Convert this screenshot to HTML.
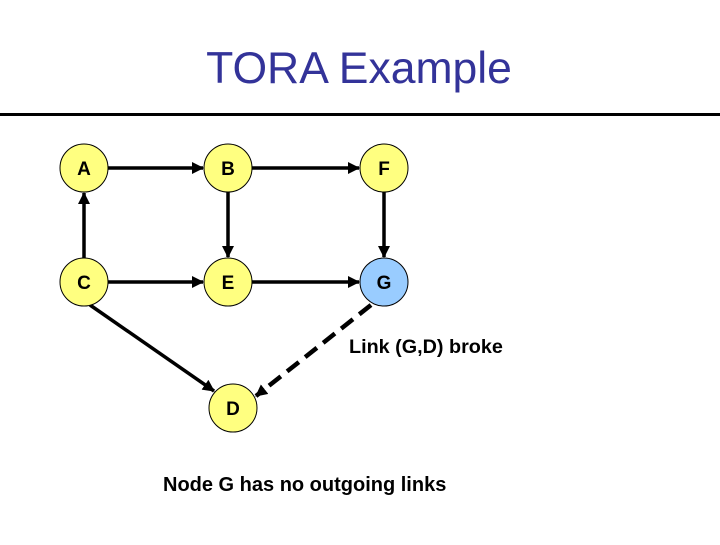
<!DOCTYPE html><html><head><style>body{margin:0;background:#fff}</style></head><body>
<svg width="720" height="540" xmlns="http://www.w3.org/2000/svg" font-family="Liberation Sans, Arial, sans-serif">
<defs><marker id="b" markerWidth="12" markerHeight="12" refX="11" refY="6" orient="auto" markerUnits="userSpaceOnUse" viewBox="0 0 12 12"><path d="M0,0 L12,6 L0,12 z" fill="#000"/></marker></defs>
<text x="359" y="83" font-size="44.5" fill="#333399" text-anchor="middle">TORA Example</text>
<line x1="0" y1="114.5" x2="720" y2="114.5" stroke="#000" stroke-width="3"/>
<g stroke="#000" stroke-width="3.5" marker-end="url(#b)">
<line x1="108" y1="168" x2="203" y2="168"/>
<line x1="252" y1="168" x2="359" y2="168"/>
<line x1="84" y1="258" x2="84" y2="193"/>
<line x1="228" y1="192" x2="228" y2="257"/>
<line x1="384" y1="192" x2="384" y2="257"/>
<line x1="108" y1="282" x2="203" y2="282"/>
<line x1="252" y1="282" x2="359" y2="282"/>
<line x1="90" y1="305" x2="214" y2="391"/>
<line x1="371" y1="305" x2="256" y2="396" stroke-width="4.5" stroke-dasharray="15,8"/>
</g>
<g stroke="#000" stroke-width="1">
<circle cx="84" cy="168" r="24" fill="#ffff80"/><circle cx="228" cy="168" r="24" fill="#ffff80"/><circle cx="384" cy="168" r="24" fill="#ffff80"/>
<circle cx="84" cy="282" r="24" fill="#ffff80"/><circle cx="228" cy="282" r="24" fill="#ffff80"/><circle cx="384" cy="282" r="24" fill="#99ccff"/>
<circle cx="233" cy="408" r="24" fill="#ffff80"/>
</g>
<g font-size="19" font-weight="bold" text-anchor="middle" fill="#000">
<text x="84" y="175">A</text><text x="228" y="175">B</text><text x="384" y="175">F</text>
<text x="84" y="289">C</text><text x="228" y="289">E</text><text x="384" y="289">G</text><text x="233" y="415">D</text>
</g>
<text x="349" y="353" font-size="19.8" font-weight="bold" fill="#000">Link (G,D) broke</text>
<text x="163" y="491" font-size="20" font-weight="bold" fill="#000">Node G has no outgoing links</text>
</svg></body></html>
